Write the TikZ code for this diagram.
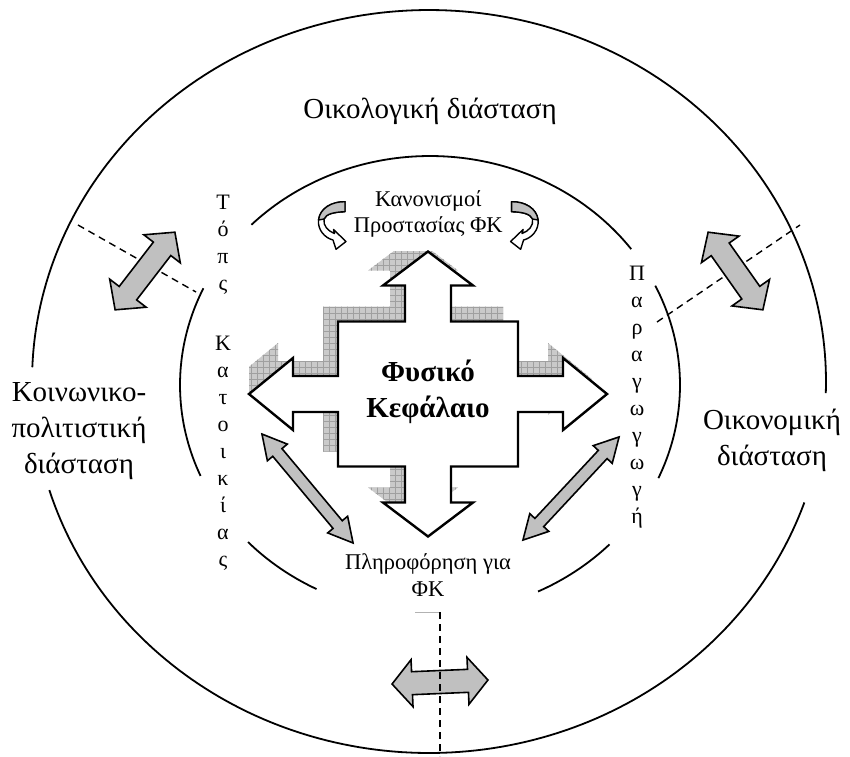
\documentclass[tikz,border=0pt]{standalone}
\usepackage{fontspec}
\setmainfont{Liberation Serif}
\usetikzlibrary{calc}

\definecolor{arrowgray}{HTML}{C0C0C0}
\definecolor{shadegray}{HTML}{CACACA}
\definecolor{gridgray}{HTML}{A0A0A0}

\tikzset{
  ring/.style={line width=1.8pt},
  divider/.style={line width=1.4pt, dash pattern=on 7pt off 5pt},
  flowarrow/.style={fill=arrowgray, draw=black, line width=1.6pt, line join=miter},
  bigcross/.style={fill=white, draw=black, line width=2.4pt, line join=miter},
  curlarrow/.style={draw=black, line width=1.4pt, line join=round},
  gridline/.style={gridgray, line width=0.6pt},
  dimlabel/.style={font=\fontsize{29}{36}\selectfont, align=center, inner sep=0pt},
  innerlabel/.style={font=\fontsize{22.5}{26.5}\selectfont, align=center, inner sep=0pt},
  corelabel/.style={font=\fontsize{29}{36.5}\selectfont\bfseries, align=center, inner sep=0pt},
  columnlabel/.style={font=\fontsize{22}{27}\selectfont, align=center, inner sep=0pt},
}

% double-headed block arrow: centre x, centre y, angle, length, shaft width, head width, head length
\newcommand{\twowayarrow}[7]{%
  \begin{scope}[shift={(#1,#2)}, rotate=#3]
    \filldraw[flowarrow] ({-#4/2},0) -- ({-#4/2+#7},{#6/2}) -- ({-#4/2+#7},{#5/2})
      -- ({#4/2-#7},{#5/2}) -- ({#4/2-#7},{#6/2}) -- ({#4/2},0)
      -- ({#4/2-#7},{-#6/2}) -- ({#4/2-#7},{-#5/2}) -- ({-#4/2+#7},{-#5/2})
      -- ({-#4/2+#7},{-#6/2}) -- cycle;
  \end{scope}}

% outline of the four-way arrow, relative to its centre
\newcommand{\crossoutline}{(0,-142.5) -- (45,-108.5) -- (23,-108.5) -- (23,-72.5)
  -- (90,-72.5) -- (90,-18) -- (135,-18) -- (135,-36) -- (179,0) -- (135,36)
  -- (135,18) -- (90,18) -- (90,72.5) -- (23,72.5) -- (23,108.5) -- (45,108.5)
  -- (0,142.5) -- (-45,108.5) -- (-23,108.5) -- (-23,72.5) -- (-90,72.5)
  -- (-90,18) -- (-135,18) -- (-135,36) -- (-179,0) -- (-135,-36) -- (-135,-18)
  -- (-90,-18) -- (-90,-72.5) -- (-23,-72.5) -- (-23,-108.5) -- (-45,-108.5) -- cycle}

% curled arrow beside the regulations label
\newcommand{\curl}{%
  \filldraw[curlarrow, fill=white] (345,201.7) .. controls (332,201.5) and (320,208) .. (318.5,220)
    .. controls (317.5,230) and (325,238) .. (333,240) -- (336,249.3) -- (346,241.5)
    -- (333.5,229.5) -- (334.5,233.5) .. controls (328,231) and (323,226) .. (324,219)
    .. controls (326,214) and (334,212) .. (345,211.7) -- cycle;
  \filldraw[curlarrow, fill=arrowgray] (345,201.7) .. controls (332,201.5) and (320,208) .. (318.5,220)
    -- (324,219) .. controls (326,214) and (334,212) .. (345,211.7) -- cycle;}

\begin{document}
\begin{tikzpicture}[x=1pt,y=-1pt]
\useasboundingbox (0,0) rectangle (850,756);

% outer ring, broken at the two side labels
\draw[ring] plot[domain=-1.8:177.8, samples=150] ({429+397*cos(\x)}, {381.5-371.5*sin(\x)});
\draw[ring] plot[domain=197:341, samples=120] ({429+397*cos(\x)}, {381.5-371.5*sin(\x)});

% inner ring, broken at the labels
\draw[ring] plot[domain=36.4:135.6, samples=80] ({430+250*cos(\x)}, {385-229*sin(\x)});
\draw[ring] plot[domain=155:203.4, samples=40] ({430+250*cos(\x)}, {385-229*sin(\x)});
\draw[ring] plot[domain=223.3:243, samples=20] ({430+250*cos(\x)}, {385-229*sin(\x)});
\draw[ring] plot[domain=295.6:315.9, samples=20] ({430+250*cos(\x)}, {385-229*sin(\x)});
\draw[ring] plot[domain=-24:25.7, samples=40] ({430+250*cos(\x)}, {385-229*sin(\x)});

% dashed dividers between the dimensions
\coordinate (divA1) at (78,225);  \coordinate (divA2) at (196,292);
\coordinate (divB1) at (657,322); \coordinate (divB2) at (800,225);
\coordinate (divC1) at (440,612); \coordinate (divC2) at (440,756);
\coordinate (divC0) at (415,612);
\draw[divider] (divA1) -- (divA2);
\draw[divider] (divB1) -- (divB2);

% exchange arrows between the dimensions
\twowayarrow{145}{271}{52.4}{98}{22}{46}{21}
\twowayarrow{735.5}{271}{-54.8}{95}{22}{46}{21}
\twowayarrow{440}{682}{2.4}{96}{23}{47}{20}

\draw[gray!60, line width=0.8pt] (divC0) -- (divC1);
\draw[divider] (divC1) -- (divC2);

% diagonal arrows to the information label
\twowayarrow{307.5}{488.5}{-50.1}{142}{12}{26}{24}
\twowayarrow{571}{488.5}{47}{141}{12}{26}{24}

% chequered shadow of the four-way arrow
\begin{scope}
  \clip (249,251.5) rectangle (620,540);
  \begin{scope}[shift={(413,379)}]
    \clip \crossoutline;
    \fill[shadegray] (-200,-200) rectangle (200,200);
    \foreach \g in {-198,-192,...,198} {
      \draw[gridline] (\g,-200) -- (\g,200);
      \draw[gridline] (-200,\g) -- (200,\g);
    }
  \end{scope}
\end{scope}

% four-way arrow
\filldraw[bigcross, shift={(428,394)}] \crossoutline;

% curled arrows around the regulations label
\curl
\begin{scope}[shift={(856.6,0)}, xscale=-1]
  \curl
\end{scope}

% labels
\node[dimlabel, anchor=base] (eco) at (430,118) {Οικολογική διάσταση};
\node[dimlabel] (social) at (79,431) {Κοινωνικο-\\πολιτιστική\\διάσταση};
\node[dimlabel] (econ) at (772,440) {Οικονομική\\διάσταση};
\node[innerlabel] (rules) at (428.3,214) {Κανονισμοί\\Προστασίας ΦΚ};
\node[innerlabel] (info) at (428,575) {Πληροφόρηση για\\ΦΚ};
\node[corelabel] (core) at (428,392) {Φυσικό\\Κεφάλαιο};
\node[columnlabel, anchor=north] (residence) at (223,195)
  {Τ\\ό\\π\\ς\\[33pt]Κ\\α\\τ\\ο\\ι\\κ\\ί\\α\\ς};
\node[columnlabel, anchor=north] (production) at (637,266)
  {Π\\α\\ρ\\α\\γ\\ω\\γ\\ω\\γ\\ή};
\end{tikzpicture}
\end{document}
